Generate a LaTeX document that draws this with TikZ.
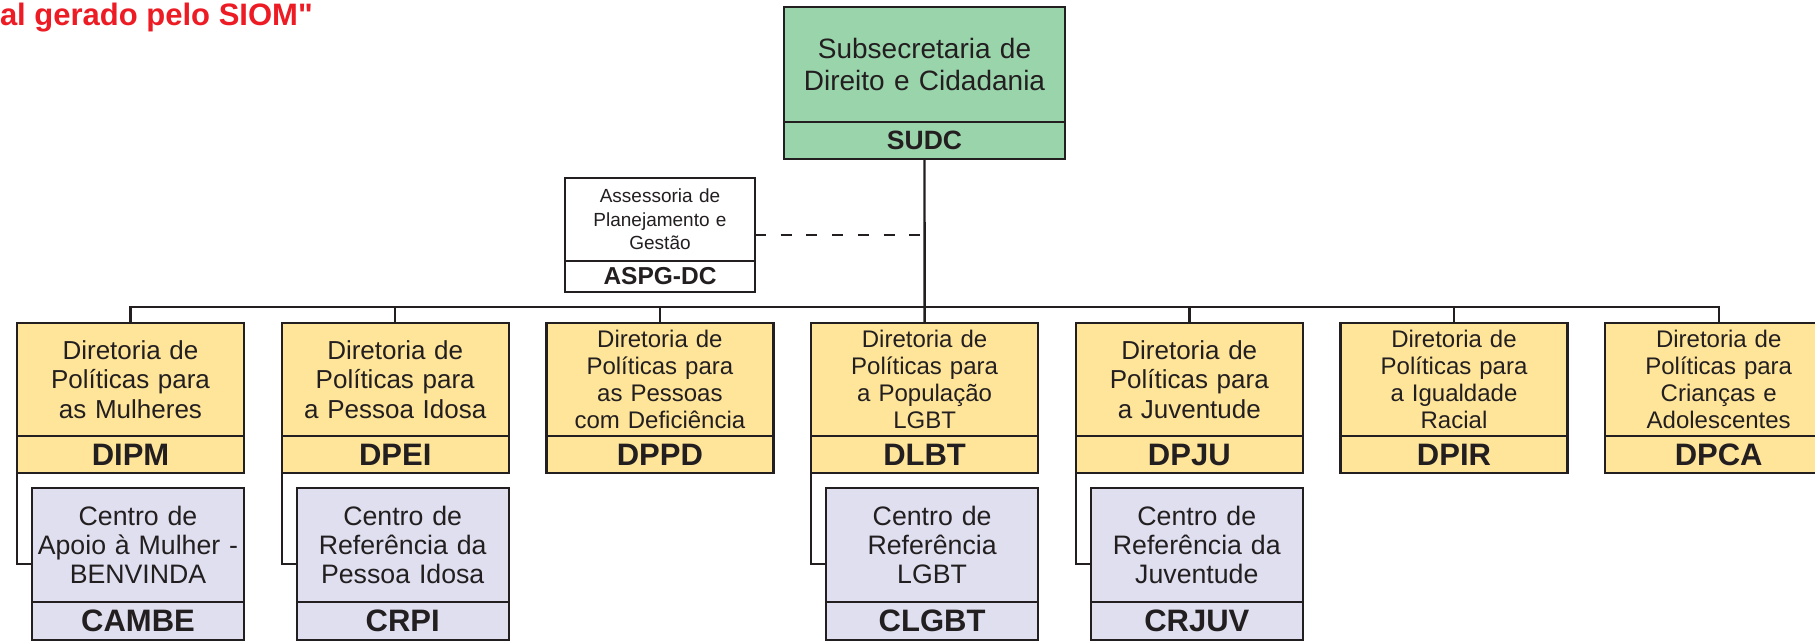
\documentclass[tikz,border=0pt]{standalone}
\usepackage{fontspec}
\setmainfont{Liberation Sans}
\newfontfamily\redfont{Liberation Sans}[Ligatures=TeXOff]
\usetikzlibrary{calc}
\definecolor{ink}{RGB}{35,31,32}
\definecolor{boxyellow}{RGB}{254,229,153}
\definecolor{boxlav}{RGB}{223,223,239}
\definecolor{boxgreen}{RGB}{153,212,171}
\definecolor{sred}{RGB}{237,28,36}
\begin{document}
\begin{tikzpicture}[x=1pt,y=-1pt,
  every node/.style={inner sep=0pt, outer sep=0pt, text=ink},
  base/.style={draw=ink, line width=2.4pt, align=center, anchor=north west},
  ptitle/.style={base, fill=boxyellow, minimum width=227pt, minimum height=113pt, text width=222pt, font=\fontsize{26}{29.5}\selectfont},
  ptitlefour/.style={ptitle, font=\fontsize{24}{27}\selectfont},
  pcode/.style={base, fill=boxyellow, minimum width=227pt, minimum height=37pt, font=\fontsize{31}{31}\selectfont\bfseries},
  ctitle/.style={base, fill=boxlav, minimum width=212pt, minimum height=114pt, text width=208pt, font=\fontsize{26.7}{29}\selectfont},
  ccode/.style={base, fill=boxlav, minimum width=212pt, minimum height=38pt, font=\fontsize{31}{31}\selectfont\bfseries},
  link/.style={draw=ink, line width=2.4pt},
  dashlink/.style={link, dash pattern=on 11pt off 14.7pt},
]
\useasboundingbox (0,0) rectangle (1815,642);

% red header text
\node[anchor=base west, text=sred, font=\redfont\fontsize{31}{31}\selectfont\bfseries] (siom) at (0,26) {al gerado pelo SIOM"};

% top box
\node[base, fill=boxgreen, minimum width=281pt, minimum height=115pt, text width=276pt, font=\fontsize{28}{32}\selectfont] (sudcT) at (784,7) {Subsecretaria de\\Direito e Cidadania};
\node[base, fill=boxgreen, minimum width=281pt, minimum height=37pt, font=\fontsize{26.5}{26.5}\selectfont\bfseries] (sudc) at (784,122) {SUDC};

% advisory box
\node[base, fill=white, minimum width=190pt, minimum height=83pt, text width=186pt, font=\fontsize{19}{23.5}\selectfont] (aspgT) at (565,178) {Assessoria de\\Planejamento e\\Gestão};
\node[base, fill=white, minimum width=190pt, minimum height=31pt, font=\fontsize{24.5}{24.5}\selectfont\bfseries] (aspg) at (565,261) {ASPG-DC};
\coordinate (aspgmid) at ($(aspgT.north east)!0.5!(aspg.south east)$);

% directorates
\node[ptitle] (dipmT) at (17,323) {Diretoria de\\Políticas para\\as Mulheres};
\node[pcode] (dipm) at (17,436) {DIPM};
\node[ptitle] (dpeiT) at (281.7,323) {Diretoria de\\Políticas para\\a Pessoa Idosa};
\node[pcode] (dpei) at (281.7,436) {DPEI};
\node[ptitlefour] (dppdT) at (546.4,323) {Diretoria de\\Políticas para\\as Pessoas\\com Deficiência};
\node[pcode] (dppd) at (546.4,436) {DPPD};
\node[ptitlefour] (dlbtT) at (811.1,323) {Diretoria de\\Políticas para\\a População\\LGBT};
\node[pcode] (dlbt) at (811.1,436) {DLBT};
\node[ptitle] (dpjuT) at (1075.8,323) {Diretoria de\\Políticas para\\a Juventude};
\node[pcode] (dpju) at (1075.8,436) {DPJU};
\node[ptitlefour] (dpirT) at (1340.5,323) {Diretoria de\\Políticas para\\a Igualdade\\Racial};
\node[pcode] (dpir) at (1340.5,436) {DPIR};
\node[ptitlefour] (dpcaT) at (1605.2,323) {Diretoria de\\Políticas para\\Crianças e\\Adolescentes};
\node[pcode] (dpca) at (1605.2,436) {DPCA};

% centres
\node[ctitle] (cambeT) at (32,488) {Centro de\\Apoio à Mulher -\\BENVINDA};
\node[ccode] (cambe) at (32,602) {CAMBE};
\node[ctitle] (crpiT) at (296.7,488) {Centro de\\Referência da\\Pessoa Idosa};
\node[ccode] (crpi) at (296.7,602) {CRPI};
\node[ctitle] (clgbtT) at (826.1,488) {Centro de\\Referência\\LGBT};
\node[ccode] (clgbt) at (826.1,602) {CLGBT};
\node[ctitle] (crjuvT) at (1090.8,488) {Centro de\\Referência da\\Juventude};
\node[ccode] (crjuv) at (1090.8,602) {CRJUV};
\coordinate (cambemid) at ($(cambeT.north west)!0.5!(cambe.south west)$);
\coordinate (crpimid) at ($(crpiT.north west)!0.5!(crpi.south west)$);
\coordinate (clgbtmid) at ($(clgbtT.north west)!0.5!(clgbt.south west)$);
\coordinate (crjuvmid) at ($(crjuvT.north west)!0.5!(crjuv.south west)$);

% connectors
\draw[link] (sudc.south) -- (dlbtT.north);
\draw[link] (dipmT.north) -- ++(0,-16) -| (dpcaT.north);
\foreach \n in {dpeiT,dppdT,dpjuT,dpirT}{\draw[link] (\n.north) -- ++(0,-16);}
\draw[dashlink] (aspgmid) -- (aspgmid -| sudc.south);
\draw[link] (dipm.south west) |- (cambemid);
\draw[link] (dpei.south west) |- (crpimid);
\draw[link] (dlbt.south west) |- (clgbtmid);
\draw[link] (dpju.south west) |- (crjuvmid);
\end{tikzpicture}
\end{document}
